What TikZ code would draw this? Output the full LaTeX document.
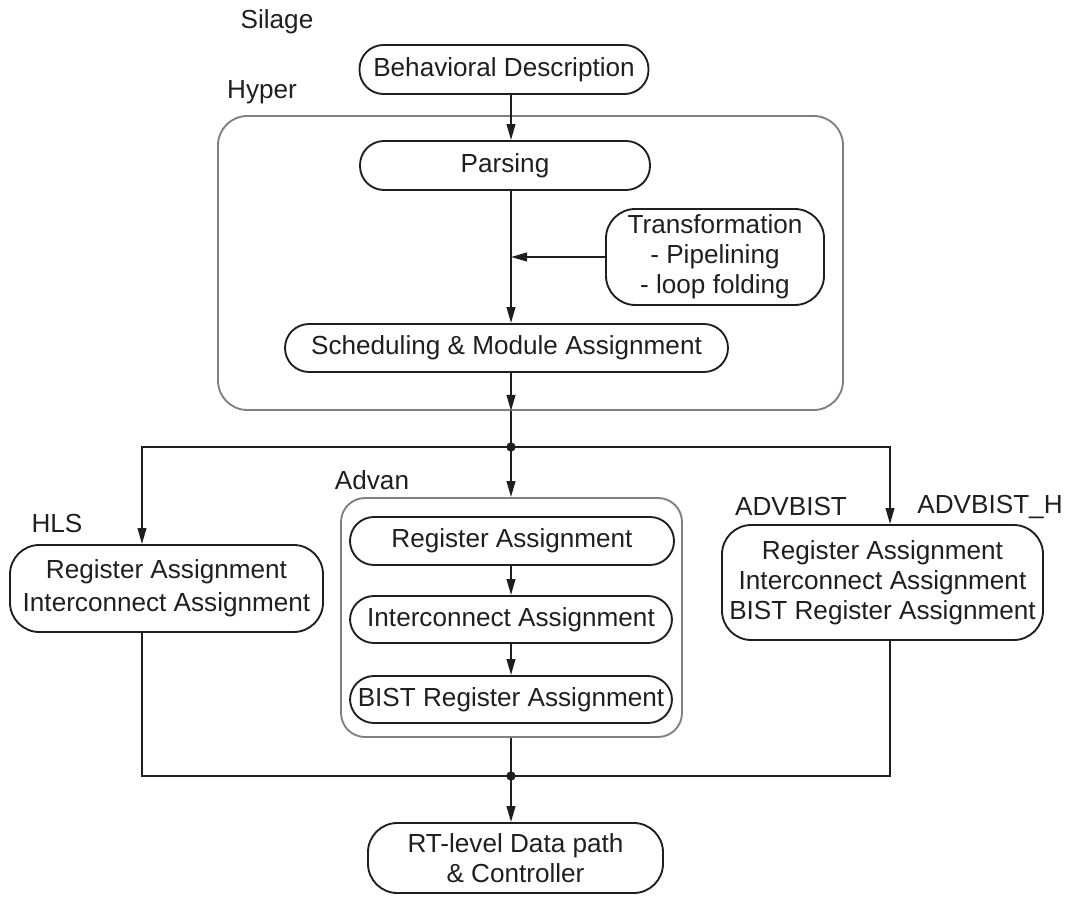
\documentclass[tikz,border=0pt]{standalone}
\usepackage{fontspec}
\setmainfont{Liberation Sans}
\usetikzlibrary{arrows.meta}
\begin{document}
\begin{tikzpicture}[x=0.75pt,y=-0.75pt,
  txt/.style={font=\fontsize{19.6}{22.5}\selectfont, text=black!88},
  proc/.style={txt, draw=black!88, line width=1.4pt, rounded corners=18pt,
    inner sep=0pt, align=center},
  group/.style={draw=black!50, line width=1.4pt, inner sep=0pt},
  lbl/.style={txt, inner sep=0pt},
  wire/.style={draw=black!88, line width=1.4pt},
  arr/.style={wire, -{Triangle[length=12pt,width=6.5pt]}},
  dot/.style={circle, fill=black!88, inner sep=0pt, minimum size=7pt}]
\useasboundingbox (0,0) rectangle (1066,898);

% vertical axes of the flow
\coordinate (mx) at (511,0);
\coordinate (lx) at (142,0);
\coordinate (rx) at (890,0);

% group frames
\node[group, rounded corners=22pt, minimum width=468.75pt, minimum height=220.5pt] (hyper) at (530.5,263) {};
\node[group, rounded corners=18pt, minimum width=255.75pt, minimum height=179.25pt] (advan) at (511.5,617.5) {};

% process steps
\node[proc, minimum width=216.75pt, minimum height=36.75pt] (desc) at (504,69.5) {Behavioral Description};
\node[proc, minimum width=217.5pt, minimum height=36.75pt] (parse) at (505,165.5) {Parsing};
\node[proc, rounded corners=22pt, minimum width=163.5pt, minimum height=72pt] (trans) at (715,257)
  {Transformation\\- Pipelining\\- loop folding};
\node[proc, minimum width=332.25pt, minimum height=36pt] (sched) at (506.5,348) {Scheduling \& Module Assignment};
\node[proc, rounded corners=22pt, minimum width=234.75pt, minimum height=65.25pt,
  font=\fontsize{19.6}{24.75}\selectfont] (hls) at (166.5,588.5)
  {Register Assignment\\Interconnect Assignment};
\node[proc, minimum width=243pt, minimum height=36pt] (adv1) at (512,541) {Register Assignment};
\node[proc, minimum width=241.5pt, minimum height=35.25pt] (adv2) at (511,619.5) {Interconnect Assignment};
\node[proc, minimum width=241.5pt, minimum height=35.25pt] (adv3) at (511,699.5) {BIST Register Assignment};
\node[proc, rounded corners=22pt, minimum width=240.75pt, minimum height=86.25pt] (advbist) at (882.5,582.5)
  {Register Assignment\\Interconnect Assignment\\BIST Register Assignment};
\node[proc, rounded corners=22pt, minimum width=221.25pt, minimum height=52.5pt] (rt) at (515.5,858)
  {RT-level Data path\\\& Controller};

% tool names
\node[lbl] (silage) at (277,22) {Silage};
\node[lbl] (hyperlbl) at (262,92) {Hyper};
\node[lbl] (hlslbl) at (57,523) {HLS};
\node[lbl] (advanlbl) at (372,480) {Advan};
\node[lbl] (advbistlbl) at (791,507) {ADVBIST};
\node[lbl] (advbisthlbl) at (990,507) {ADVBIST\_H};

% junctions
\node[dot] (j1) at (511,447) {};
\node[dot] (j2) at (511,776) {};

% connectors
\draw[arr] (desc.south -| mx) -- (parse.north -| mx);
\draw[arr] (parse.south -| mx) -- (sched.north -| mx);
\draw[arr] (trans.west) -- (trans.west -| mx);
\draw[arr] (sched.south -| mx) -- (hyper.south -| mx);
\draw[wire] (hyper.south -| mx) -- (j1.center);
\draw[arr] (j1.center) -| (hls.north -| lx);
\draw[arr] (j1.center) -| (advbist.north -| rx);
\draw[arr] (j1.center) -- (advan.north -| mx);
\draw[arr] (adv1.south -| mx) -- (adv2.north -| mx);
\draw[arr] (adv2.south -| mx) -- (adv3.north -| mx);
\draw[wire] (advan.south -| mx) -- (j2.center);
\draw[wire] (hls.south -| lx) |- (j2.center);
\draw[wire] (advbist.south -| rx) |- (j2.center);
\draw[arr] (j2.center) -- (rt.north -| mx);
\end{tikzpicture}
\end{document}
